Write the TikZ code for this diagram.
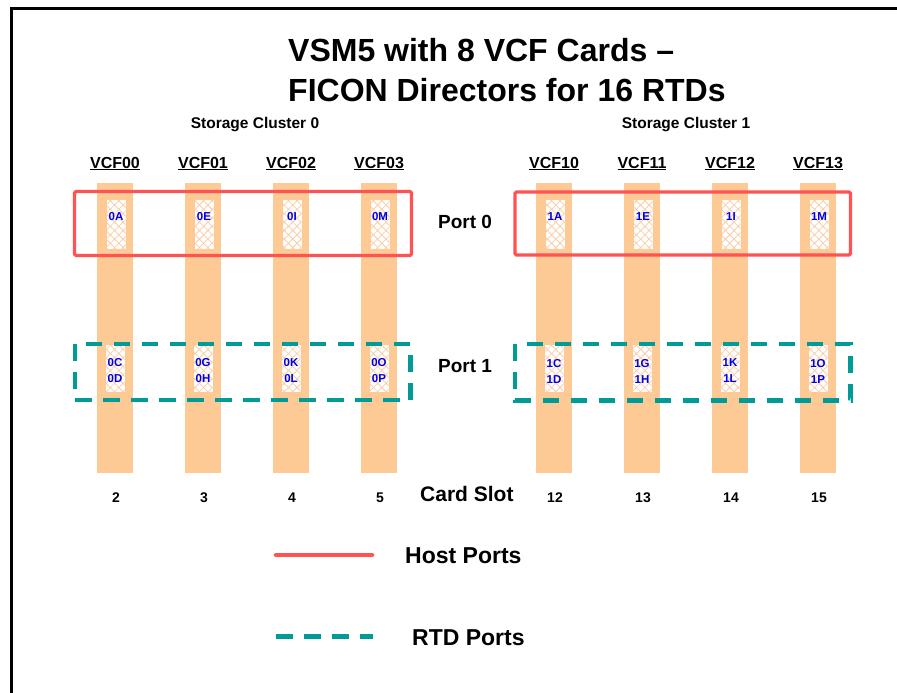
\documentclass[tikz,border=0pt]{standalone}
\usepackage{fontspec}
\setmainfont{Liberation Sans}
\usetikzlibrary{patterns.meta}
\definecolor{barc}{HTML}{FDCA96}
\definecolor{hatchc}{HTML}{F9CFA8}
\definecolor{hostc}{HTML}{FF5252}
\definecolor{rtdc}{HTML}{009B96}
\definecolor{portc}{HTML}{0000E6}
\begin{document}
\begin{tikzpicture}[x=1pt,y=-1pt,
  bar/.style={fill=barc,draw=none,inner sep=0pt,minimum width=36.6pt,minimum height=290pt},
  hatchbox/.style={fill=white,draw=none,inner sep=0pt,minimum width=19pt,
    postaction={pattern={Hatch[angle=45,distance=6pt,line width=0.8pt]},pattern color=hatchc}},
  portlbl/.style={text=portc,font=\fontsize{11.5}{16}\selectfont\bfseries,align=center,inner sep=0pt},
  vcflbl/.style={anchor=base,font=\fontsize{16}{18}\selectfont\bfseries,inner sep=0pt},
  slotlbl/.style={anchor=base,font=\fontsize{14}{16}\selectfont\bfseries,inner sep=0pt},
  clusterlbl/.style={anchor=base,font=\fontsize{15.5}{18}\selectfont\bfseries,inner sep=0pt},
  sidelbl/.style={anchor=base west,font=\fontsize{19}{22}\selectfont\bfseries,inner sep=0pt},
  titlelbl/.style={anchor=base west,font=\fontsize{32}{36}\selectfont\bfseries,inner sep=0pt},
  legendlbl/.style={anchor=base west,font=\fontsize{23}{26}\selectfont\bfseries,inner sep=0pt},
  hostbox/.style={draw=hostc,line width=3.2pt,rounded corners=1.5pt},
  rtdbox/.style={draw=rtdc,line width=4.8pt,dash pattern=on 16.5pt off 11.5pt},
  hostline/.style={draw=hostc,line width=4.5pt,line cap=round},
  rtdline/.style={draw=rtdc,line width=5pt,dash pattern=on 17pt off 11pt}
]
\useasboundingbox (0,0) rectangle (897,693);
\fill[white] (0,0) rectangle (897,693);
% frame
\draw[line width=3pt] (11.5,700) -- (11.5,8.5) -- (905,8.5);

% title
\node[titlelbl] (t1) at (288,62) {VSM5 with 8 VCF Cards –};
\node[titlelbl] (t2) at (288,102) {FICON Directors for 16 RTDs};

\node[clusterlbl] (sc0) at (255,128) {Storage Cluster 0};
\node[clusterlbl] (sc1) at (686,128) {Storage Cluster 1};

% bars, hatch boxes and labels
\foreach \x/\vcf/\pa/\pb/\pc/\s in {115/VCF00/0A/0C/0D/2, 203/VCF01/0E/0G/0H/3, 291/VCF02/0I/0K/0L/4, 379/VCF03/0M/0O/0P/5,
  554/VCF10/1A/1C/1D/12, 642/VCF11/1E/1G/1H/13, 730/VCF12/1I/1K/1L/14, 818/VCF13/1M/1O/1P/15}{
  \node[bar] (bar\s) at (\x,328) {};
  \node[hatchbox,minimum height=49pt] (ha\s) at (\x+1,224.5) {};
  \node[hatchbox,minimum height=47pt] (hb\s) at (\x,368.5) {};
  \node[portlbl] (pa\s) at (\x+1,217) {\pa};
  \node[portlbl] (pb\s) at (\x,371) {\pb\\\pc};
  \node[vcflbl] (v\s) at (\x,168) {\underline{\vcf}};
  \node[slotlbl] (s\s) at (\x+1,502) {\s};
}

% port boxes
\draw[hostbox] (74.5,191.5) rectangle (411.5,255.5);
\draw[hostbox] (515,192) rectangle (850.5,255);
\draw[rtdbox] (75,344) rectangle (410.5,400);
\draw[rtdbox] (515,344) rectangle (850.5,400.5);

\node[sidelbl] (port0) at (438,228) {Port 0};
\node[sidelbl] (port1) at (438,372) {Port 1};
\node[anchor=base west,font=\fontsize{21}{24}\selectfont\bfseries,inner sep=0pt] (cslot) at (420,501) {Card Slot};

% legend
\coordinate (h1) at (276,555);
\coordinate (h2) at (372,555);
\coordinate (r1) at (276,636);
\coordinate (r2) at (373,636);
\draw[hostline] (h1) -- (h2);
\draw[rtdline] (r1) -- (r2);
\node[legendlbl] (hostlbl) at (405,563) {Host Ports};
\node[legendlbl] (rtdlbl) at (412,645) {RTD Ports};
\end{tikzpicture}
\end{document}
